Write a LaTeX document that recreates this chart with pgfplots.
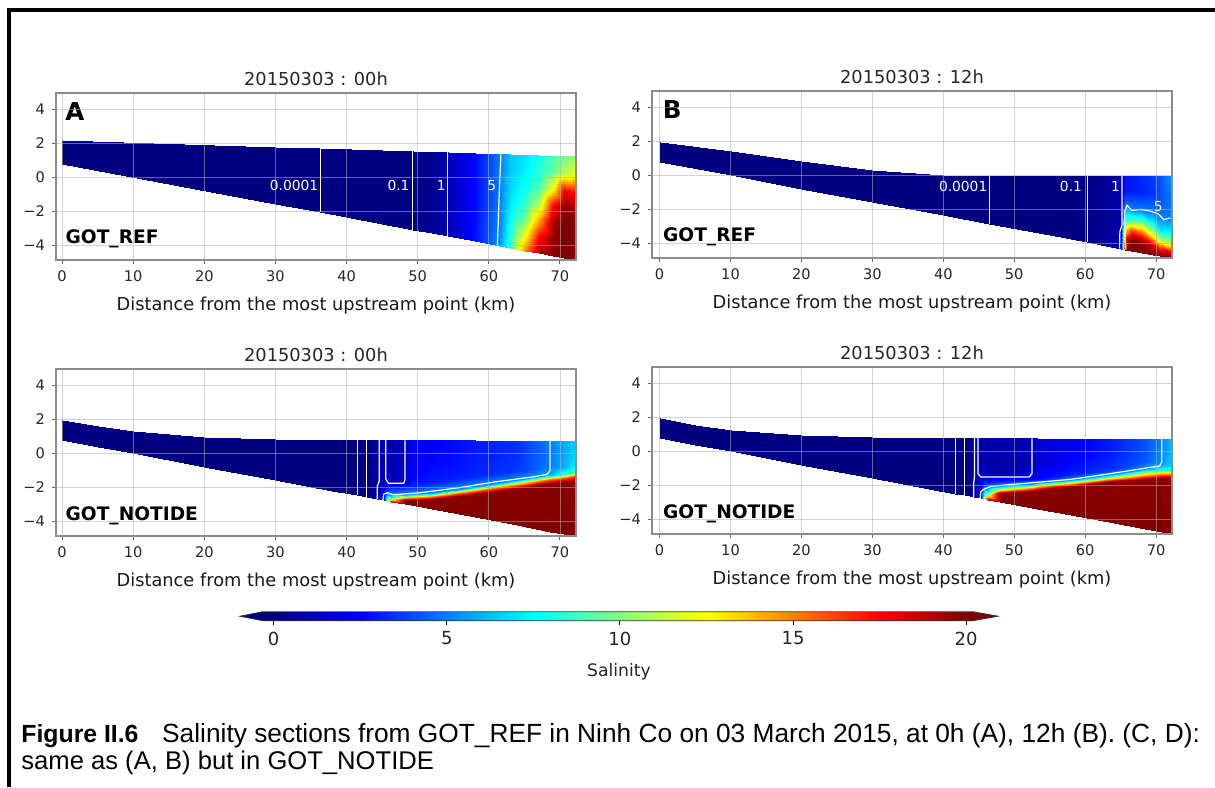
\documentclass[border=0pt]{standalone}
\usepackage{fontspec}
\setmainfont{DejaVu Sans}
\newfontfamily\capfont{Liberation Sans}
\usepackage{pgfplots}
\usepackage{pgfplotstable}
\pgfplotsset{compat=1.18}

% Panel A (GOT_REF, 00h): columns of 7 points from bottom to surface
\pgfplotstableread{
x y c
0 0.800 0
0 1.033 0
0 1.267 0
0 1.500 0
0 1.733 0
0 1.967 0
0 2.200 0
30 -1.555 0
30 -0.995 0
30 -0.435 0
30 0.125 0
30 0.684 0
30 1.244 0
30 1.804 0
36.3 -2.050 0
36.3 -1.422 0
36.3 -0.793 0
36.3 -0.165 0
36.3 0.464 0
36.3 1.093 0
36.3 1.721 0
45 -2.733 0.02
45 -2.010 0.02
45 -1.287 0.02
45 -0.564 0.02
45 0.160 0.02
45 0.883 0.02
45 1.606 0.02
49.3 -3.070 0.1
49.3 -2.300 0.1
49.3 -1.530 0.1
49.3 -0.761 0.1
49.3 0.009 0.1
49.3 0.779 0.1
49.3 1.549 0.1
52 -3.282 0.4
52 -2.483 0.4
52 -1.684 0.4
52 -0.884 0.4
52 -0.085 0.4
52 0.715 0.4
52 1.514 0.4
54.2 -3.455 1.0
54.2 -2.632 1.0
54.2 -1.808 1.0
54.2 -0.985 1.0
54.2 -0.162 1.0
54.2 0.662 1.0
54.2 1.485 1.0
58 -3.753 2.8
58 -2.889 2.8
58 -2.024 2.7
58 -1.160 2.6
58 -0.295 2.6
58 0.569 2.6
58 1.434 2.6
61.5 -4.028 5.5
61.5 -3.125 5.3
61.5 -2.223 5.1
61.5 -1.320 5.0
61.5 -0.417 5.0
61.5 0.485 5.0
61.5 1.388 5.0
63 -4.146 8.5
63 -3.227 8
63 -2.308 7.5
63 -1.389 7
63 -0.470 6.7
63 0.449 6.4
63 1.368 6.4
65 -4.303 14.5
65 -3.362 12
65 -2.421 9.5
65 -1.481 8.3
65 -0.540 7.6
65 0.401 7.2
65 1.342 7.0
67 -4.460 19.5
67 -3.497 17.5
67 -2.534 14.5
67 -1.572 11
67 -0.609 9
67 0.354 8.2
67 1.316 8.0
69 -4.617 20
69 -3.633 19.8
69 -2.648 19.5
69 -1.664 17.5
69 -0.680 12.5
69 0.305 9.5
69 1.289 9.0
70.5 -4.734 20
70.5 -3.734 20
70.5 -2.733 20
70.5 -1.733 19.8
70.5 -0.732 17.5
70.5 0.268 11
70.5 1.269 9.6
72 -4.852 20
72 -3.835 20
72 -2.818 20
72 -1.801 19.5
72 -0.784 17
72 0.233 12
72 1.250 10.3
}\tabA

% Panel B (GOT_REF, 12h)
\pgfplotstableread{
x y c
0 0.8 0
0 1.0 0
0 1.2 0
0 1.4 0
0 1.6 0
0 1.8 0
0 2.0 0
10 0.015 0
10 0.254 0
10 0.493 0
10 0.733 0
10 0.972 0
10 1.211 0
10 1.45 0
20 -0.77 0
20 -0.5 0
20 -0.23 0
20 0.04 0
20 0.31 0
20 0.58 0
20 0.85 0
30 -1.555 0
30 -1.238 0
30 -0.920 0
30 -0.603 0
30 -0.285 0
30 0.033 0
30 0.35 0
40 -2.34 0
40 -1.942 0
40 -1.543 0
40 -1.145 0
40 -0.747 0
40 -0.348 0
40 0.05 0
46.5 -2.85 0
46.5 -2.375 0
46.5 -1.9 0
46.5 -1.425 0
46.5 -0.95 0
46.5 -0.475 0
46.5 0 0
55 -3.518 0.03
55 -2.931 0.03
55 -2.345 0.03
55 -1.759 0.03
55 -1.173 0.03
55 -0.586 0.03
55 0 0.03
60.3 -3.934 0.1
60.3 -3.279 0.1
60.3 -2.623 0.1
60.3 -1.967 0.1
60.3 -1.311 0.1
60.3 -0.656 0.1
60.3 0 0.1
63 -4.146 0.4
63 -3.455 0.4
63 -2.764 0.4
63 -2.073 0.4
63 -1.382 0.4
63 -0.691 0.4
63 0 0.4
65 -4.303 0.9
65 -3.586 0.9
65 -2.869 0.9
65 -2.151 0.9
65 -1.434 0.9
65 -0.717 0.9
65 0 0.9
65.6 -4.35 19.5
65.6 -3.8 18.5
65.6 -3.3 14
65.6 -2.7 8.5
65.6 -1.8 5
65.6 -0.9 3
65.6 0 2.8
66.5 -4.42 20
66.5 -3.8 20
66.5 -3.2 16
66.5 -2.6 9
66.5 -1.95 5
66.5 -0.9 3
66.5 0 3
68 -4.538 20
68 -3.9 19.8
68 -3.3 15
68 -2.7 9
68 -2.05 5
68 -1.0 3.2
68 0 3.3
69.5 -4.656 19.8
69.5 -4.1 18
69.5 -3.6 13
69.5 -2.9 8
69.5 -2.15 5
69.5 -1.0 3.5
69.5 0 3.7
70.5 -4.734 20
70.5 -4.3 17
70.5 -3.8 11
70.5 -3.2 7
70.5 -2.35 5
70.5 -1.2 4
70.5 0 4.2
71.3 -4.797 20
71.3 -4.4 18
71.3 -4.0 12
71.3 -3.3 7.5
71.3 -2.55 5
71.3 -1.2 4.5
71.3 0 4.8
72 -4.852 20
72 -4.5 18
72 -4.0 12
72 -3.3 7.5
72 -2.5 5
72 -1.2 4.8
72 0 5.3
}\tabB

% Panel C (GOT_NOTIDE, 00h)
\pgfplotstableread{
x y c
0 0.8 0
0 1.0 0
0 1.2 0
0 1.4 0
0 1.6 0
0 1.8 0
0 2.0 0
5 0.408 0
5 0.606 0
5 0.805 0
5 1.004 0
5 1.203 0
5 1.401 0
5 1.6 0
10 0.015 0
10 0.229 0
10 0.443 0
10 0.658 0
10 0.872 0
10 1.086 0
10 1.3 0
20 -0.77 0
20 -0.475 0
20 -0.18 0
20 0.115 0
20 0.41 0
20 0.705 0
20 1.0 0
30 -1.555 0
30 -1.153 0
30 -0.750 0
30 -0.348 0
30 0.055 0
30 0.457 0
30 0.86 0
38 -2.183 0
38 -1.684 0
38 -1.186 0
38 -0.687 0
38 -0.188 0
38 0.311 0
38 0.81 0
41.5 -2.458 0
41.5 -1.915 0
41.5 -1.372 0
41.5 -0.829 0
41.5 -0.286 0
41.5 0.257 0
41.5 0.8 0
42.8 -2.56 0.1
42.8 -2.0 0.1
42.8 -1.44 0.1
42.8 -0.88 0.1
42.8 -0.32 0.1
42.8 0.24 0.1
42.8 0.8 0.1
44.3 -2.678 0.7
44.3 -2.1 0.7
44.3 -1.522 0.7
44.3 -0.944 0.7
44.3 -0.366 0.7
44.3 0.212 0.7
44.3 0.79 0.7
45.2 -2.748 3
45.2 -2.5 2.6
45.2 -2.2 2.2
45.2 -1.9 1.6
45.2 -1.5 1.0
45.2 -0.3 0.9
45.2 0.79 0.9
46.3 -2.835 19
46.3 -2.7 12
46.3 -2.55 7
46.3 -2.4 5
46.3 -1.95 3
46.3 -1.5 1.0
46.3 0.79 0.9
48.2 -2.984 20
48.2 -2.75 19.8
48.2 -2.58 13
48.2 -2.42 5.5
48.2 -2.0 3.5
48.2 -1.6 1.5
48.2 0.78 1.0
49.0 -3.047 20
49.0 -2.76 19.8
49.0 -2.56 13.5
49.0 -2.4 5.5
49.0 -1.9 3.2
49.0 -1.3 2.4
49.0 0.78 2.3
52 -3.282 20
52 -2.7 19.8
52 -2.5 14
52 -2.3 5.5
52 -1.7 3
52 -0.5 2.5
52 0.78 2.4
58 -3.753 20
58 -2.35 19.8
58 -2.15 14
58 -1.95 5.5
58 -1.3 3.2
58 -0.3 3
58 0.77 3
64 -4.224 20
64 -2.0 19.8
64 -1.8 14
64 -1.55 5.5
64 -1.0 3.6
64 0 3.4
64 0.76 3.4
68.6 -4.585 20
68.6 -1.75 19.8
68.6 -1.5 15
68.6 -1.25 6
68.6 -0.8 5
68.6 0 4.9
68.6 0.76 5
70.5 -4.734 20
70.5 -1.65 19.8
70.5 -1.42 16
70.5 -1.22 8
70.5 -0.8 6
70.5 0 5.8
70.5 0.75 6
72 -4.852 20
72 -1.6 19.8
72 -1.35 16
72 -1.15 9
72 -0.7 7
72 0 6.5
72 0.75 6.5
}\tabC

% Panel D (GOT_NOTIDE, 12h)
\pgfplotstableread{
x y c
0 0.8 0
0 0.992 0
0 1.183 0
0 1.375 0
0 1.567 0
0 1.758 0
0 1.95 0
5 0.408 0
5 0.598 0
5 0.788 0
5 0.979 0
5 1.169 0
5 1.36 0
5 1.55 0
10 0.015 0
10 0.224 0
10 0.433 0
10 0.643 0
10 0.852 0
10 1.061 0
10 1.27 0
20 -0.77 0
20 -0.483 0
20 -0.197 0
20 0.09 0
20 0.377 0
20 0.663 0
20 0.95 0
30 -1.555 0
30 -1.158 0
30 -0.760 0
30 -0.363 0
30 0.035 0
30 0.432 0
30 0.83 0
38 -2.183 0
38 -1.686 0
38 -1.189 0
38 -0.692 0
38 -0.194 0
38 0.303 0
38 0.8 0
41.7 -2.473 0
41.7 -1.929 0
41.7 -1.386 0
41.7 -0.842 0
41.7 -0.298 0
41.7 0.246 0
41.7 0.79 0
43.0 -2.576 0.1
43.0 -2.015 0.1
43.0 -1.454 0.1
43.0 -0.893 0.1
43.0 -0.332 0.1
43.0 0.229 0.1
43.0 0.79 0.1
44.4 -2.685 0.5
44.4 -2.106 0.5
44.4 -1.527 0.5
44.4 -0.948 0.5
44.4 -0.368 0.5
44.4 0.211 0.5
44.4 0.79 0.5
45.3 -2.756 2.5
45.3 -2.4 2.6
45.3 -2.0 2.3
45.3 -1.7 1.6
45.3 -1.4 1.0
45.3 -0.3 0.8
45.3 0.78 0.8
46.3 -2.835 19
46.3 -2.55 12
46.3 -2.3 7
46.3 -2.1 5
46.3 -1.8 3
46.3 -1.4 0.9
46.3 0.78 0.8
48 -2.968 20
48 -2.45 19.8
48 -2.25 13
48 -2.05 5.5
48 -1.75 3
48 -1.35 0.9
48 0.78 0.8
52.5 -3.321 20
52.5 -2.3 19.8
52.5 -2.08 13
52.5 -1.88 5.5
52.5 -1.6 2.5
52.5 -0.5 1.0
52.5 0.77 1.0
53.2 -3.376 20
53.2 -2.27 19.8
53.2 -2.05 13
53.2 -1.86 5.5
53.2 -1.6 2.6
53.2 -0.5 1.6
53.2 0.77 1.6
58 -3.753 20
58 -2.05 19.8
58 -1.85 13
58 -1.67 5.5
58 -1.3 3
58 -0.3 2.3
58 0.76 2.2
64 -4.224 20
64 -1.75 19.8
64 -1.55 13
64 -1.33 5.5
64 -1.0 3.5
64 -0.2 3.1
64 0.76 3.1
68.5 -4.577 20
68.5 -1.6 19.8
68.5 -1.38 14
68.5 -1.0 5.5
68.5 -0.6 4.3
68.5 0 4.1
68.5 0.75 4.1
70.8 -4.758 20
70.8 -1.55 19.8
70.8 -1.35 15
70.8 -1.1 8
70.8 -0.75 5.5
70.8 0 5.2
70.8 0.75 5.2
72 -4.852 20
72 -1.55 19.8
72 -1.35 15
72 -1.1 8.5
72 -0.8 6.5
72 0 6
72 0.75 6
}\tabD

% colour bar
\pgfplotstableread{
x y c
-0.31 0 0
-0.31 1 0
0 0 0
0 1 0
1 0 1
1 1 1
2 0 2
2 1 2
3 0 3
3 1 3
4 0 4
4 1 4
5 0 5
5 1 5
6 0 6
6 1 6
7 0 7
7 1 7
8 0 8
8 1 8
9 0 9
9 1 9
10 0 10
10 1 10
11 0 11
11 1 11
12 0 12
12 1 12
13 0 13
13 1 13
14 0 14
14 1 14
15 0 15
15 1 15
16 0 16
16 1 16
17 0 17
17 1 17
18 0 18
18 1 18
19 0 19
19 1 19
20 0 20
20 1 20
20.19 0 20
20.19 1 20
}\tabCB

\definecolor{jetlo}{RGB}{0,0,128}
\definecolor{jethi}{RGB}{128,0,0}

\pgfplotsset{
  panel/.style={
    scale only axis, width=260pt, height=83.5pt,
    xmax=72.25, ymin=-4.85, ymax=4.97,
    xtick={0,10,20,30,40,50,60,70},
    xticklabels={0,10,20,30,40,50,60,70},
    ytick={-4,-2,0,2,4},
    yticklabels={−4,−2,0,2,4},
    tick align=outside, tick pos=left,
    major tick length=2pt,
    tick style={black!60, line width=0.5pt},
    axis line style={black!45, line width=0.6pt},
    grid=major, grid style={black!30, line width=0.45pt, opacity=0.55},
    axis on top,
    colormap/jet, point meta min=0, point meta max=20,
    tick label style={font=\fontsize{7.3}{8}\selectfont, text=black!85},
    title style={font=\fontsize{8.9}{10}\selectfont, text=black!85,
      at={(axis description cs:0.5,1)}, anchor=base, yshift=-2.2pt},
    xlabel style={font=\fontsize{8.9}{10}\selectfont, text=black!90,
      at={(axis description cs:0.5,0)}, anchor=base, yshift=-25pt},
    xlabel={Distance from the most upstream point (km)},
  },
  field/.style={surf, shader=interp, mesh/ordering=y varies, mesh/rows=7,
    point meta=explicit},
  cline/.style={white, line width=0.6pt},
}
\tikzset{
  clab/.style={text=white, font=\fontsize{6.9}{8}\selectfont, inner sep=0pt},
  plab/.style={anchor=base west, inner sep=0pt, font=\bfseries\fontsize{12.3}{13}\selectfont},
  glab/.style={anchor=base west, inner sep=0pt, font=\bfseries\fontsize{9.3}{10}\selectfont},
}

\begin{document}
\begin{tikzpicture}
\useasboundingbox (0pt,0pt) rectangle (607.5pt,-393.5pt);
\fill[white] (0pt,0pt) rectangle (607.5pt,-393.5pt);
\draw[line width=1.7pt] (4.4pt,-393.5pt) -- (4.4pt,-5pt) -- (607.5pt,-5pt);

% ---------------- A ----------------
\begin{axis}[panel, at={(28pt,-46.5pt)}, anchor=north west, xmin=-0.86,
  title={20150303 : 00h}]
\addplot[field] table[x=x,y=y,meta=c] {\tabA};
\addplot[cline] coordinates {(36.3,1.72) (36.3,-2.05)};
\addplot[cline] coordinates {(49.3,1.55) (49.3,-3.07)};
\addplot[cline] coordinates {(54.2,1.48) (54.2,-3.45)};
\addplot[cline] coordinates {(61.7,1.39) (61.5,-0.5) (61.2,-4.0)};
\node[clab] at (axis cs:32.6,-0.49) {0.0001};
\node[clab] at (axis cs:47.3,-0.49) {0.1};
\node[clab] at (axis cs:53.3,-0.49) {1};
\node[clab] at (axis cs:60.4,-0.49) {5};
\node[plab] at (axis cs:0.4,3.35) {A};
\node[glab] at (axis cs:0.45,-3.9) {GOT\_REF};
\end{axis}

% ---------------- B ----------------
\begin{axis}[panel, at={(326pt,-45.5pt)}, anchor=north west, xmin=-1.07,
  title={20150303 : 12h}]
\addplot[field] table[x=x,y=y,meta=c] {\tabB};
\addplot[cline] coordinates {(46.5,0) (46.5,-2.85)};
\addplot[cline] coordinates {(60.3,0) (60.3,-3.93)};
\addplot[cline] coordinates {(65.2,0) (65.2,-2.9) (64.9,-3.3) (64.85,-4.29)};
\addplot[cline] coordinates {(65.75,-4.36) (65.6,-3.2) (65.6,-2.1) (65.9,-1.75) (66.6,-2.05) (67.8,-2.0) (68.9,-2.05) (70.3,-2.25) (71.1,-2.6) (71.9,-2.5) (72.0,-2.55)};
\node[clab] at (axis cs:42.8,-0.62) {0.0001};
\node[clab] at (axis cs:58.0,-0.62) {0.1};
\node[clab] at (axis cs:64.3,-0.62) {1};
\node[clab] at (axis cs:70.3,-1.8) {5};
\node[plab] at (axis cs:0.4,3.35) {B};
\node[glab] at (axis cs:0.45,-3.9) {GOT\_REF};
\end{axis}

% ---------------- C ----------------
\begin{axis}[panel, at={(28pt,-184.5pt)}, anchor=north west, xmin=-0.86,
  title={20150303 : 00h}]
\addplot[field] table[x=x,y=y,meta=c] {\tabC};
\addplot[cline] coordinates {(41.5,0.8) (41.5,-2.458)};
\addplot[cline] coordinates {(42.8,0.8) (42.8,-2.56)};
\addplot[cline] coordinates {(44.6,0.79) (44.6,-1.6) (44.3,-1.95) (44.3,-2.678)};
\addplot[cline] coordinates {(45.5,0.79) (45.5,-1.5) (45.9,-1.75) (48.0,-1.75) (48.2,-1.55) (48.2,0.78)};
\addplot[cline] coordinates {(45.1,-2.74) (45.2,-2.4) (45.7,-2.3) (46.5,-2.42) (50,-2.32) (55.6,-2.02) (61,-1.66) (66.4,-1.36) (68.2,-1.22) (68.6,-1.0) (68.6,0.76)};
\node[glab] at (axis cs:0.45,-3.95) {GOT\_NOTIDE};
\end{axis}

% ---------------- D ----------------
\begin{axis}[panel, at={(326pt,-183.5pt)}, anchor=north west, xmin=-1.07,
  title={20150303 : 12h}]
\addplot[field] table[x=x,y=y,meta=c] {\tabD};
\addplot[cline] coordinates {(41.7,0.79) (41.7,-2.473)};
\addplot[cline] coordinates {(43.0,0.79) (43.0,-2.576)};
\addplot[cline] coordinates {(44.4,0.79) (44.4,-1.5) (44.3,-1.8) (44.3,-2.678)};
\addplot[cline] coordinates {(44.9,0.79) (44.9,-1.3) (45.3,-1.5) (52.1,-1.5) (52.5,-1.3) (52.5,0.77)};
\addplot[cline] coordinates {(45.2,-2.75) (45.3,-2.35) (45.8,-2.2) (46.8,-2.04) (52.3,-1.84) (57.9,-1.64) (63.4,-1.31) (68.9,-0.95) (70.5,-0.85) (70.8,-0.6) (70.8,0.75)};
\node[glab] at (axis cs:0.45,-3.95) {GOT\_NOTIDE};
\end{axis}

% ---------------- colour bar ----------------
\begin{axis}[at={(120pt,-305.85pt)}, anchor=north west, scale only axis,
  width=379pt, height=4.5pt, xmin=-0.97, xmax=20.92, ymin=0, ymax=1,
  axis line style={draw=none}, clip=false,
  xtick={0,5,10,15,20}, xticklabels={0,5,10,15,20}, ytick=\empty,
  tick align=outside, tick pos=left, major tick length=2pt,
  tick style={black, line width=0.4pt},
  xticklabel style={font=\fontsize{9}{10}\selectfont, text=black!85},
  xlabel={Salinity},
  xlabel style={font=\fontsize{8.6}{10}\selectfont, text=black!85,
    at={(axis description cs:0.5,0)}, anchor=base, yshift=-28pt},
  colormap/jet, point meta min=0, point meta max=20]
\addplot[surf, shader=interp, mesh/ordering=y varies, mesh/rows=2,
  point meta=explicit] table[x=x,y=y,meta=c] {\tabCB};
\addplot[fill=jetlo, draw=none] coordinates {(-0.31,0) (-0.97,0.5) (-0.31,1) (-0.31,0)};
\addplot[fill=jethi, draw=none] coordinates {(20.19,0) (20.92,0.5) (20.19,1) (20.19,0)};
\addplot[black!80, line width=0.4pt] coordinates {(-0.31,0) (-0.97,0.5) (-0.31,1) (20.19,1) (20.92,0.5) (20.19,0) (-0.31,0)};
\end{axis}

% ---------------- caption ----------------
\node[anchor=base west, inner sep=0pt] at (10.5pt,-371pt)
  {\capfont\fontsize{13.15}{14}\selectfont{\fontsize{12.4}{14}\selectfont\bfseries Figure II.6}\hspace{0.9em}Salinity sections from GOT\_REF in Ninh Co on 03 March 2015, at 0h (A), 12h (B). (C, D):};
\node[anchor=base west, inner sep=0pt] at (10.5pt,-384.5pt)
  {\capfont\fontsize{12.8}{14}\selectfont same as (A, B) but in GOT\_NOTIDE};
\end{tikzpicture}
\end{document}
